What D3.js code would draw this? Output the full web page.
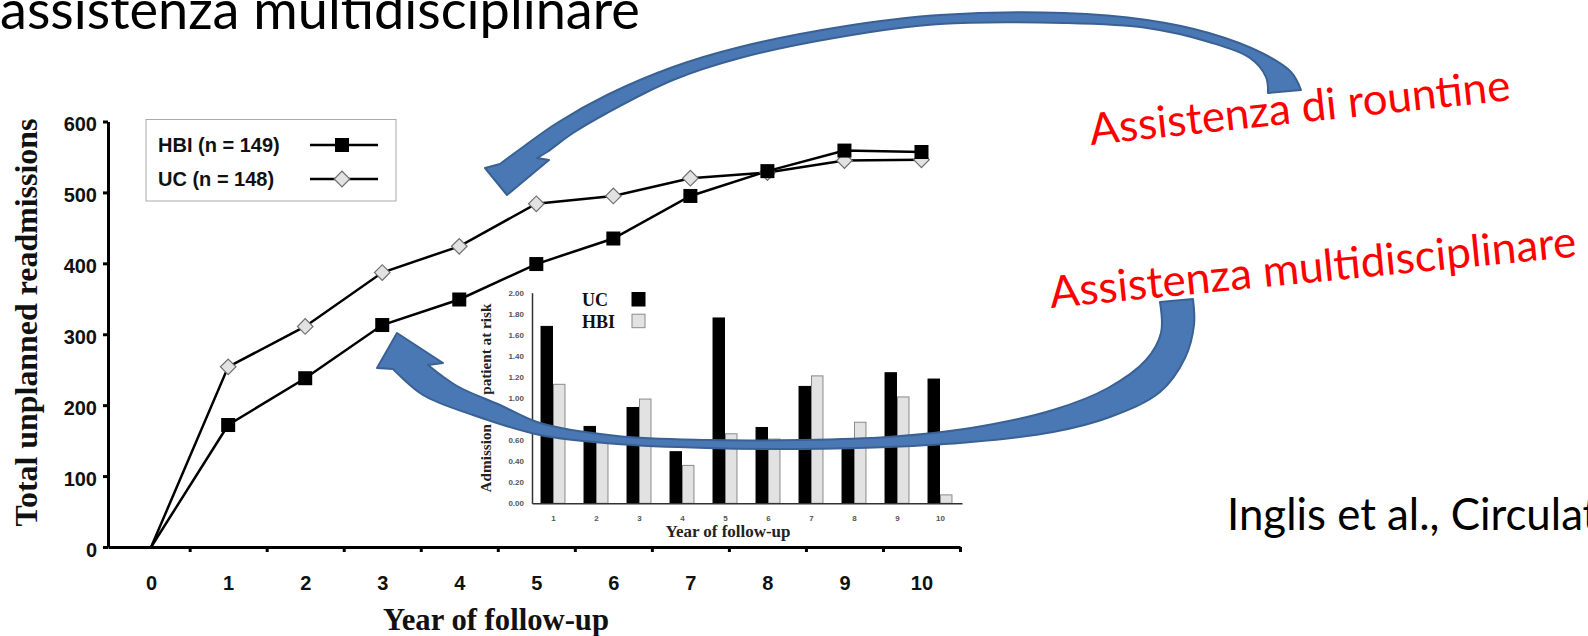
<!DOCTYPE html>
<html>
<head>
<meta charset="utf-8">
<script src="https://cdn.jsdelivr.net/npm/d3@7"></script>
<style>
  body { margin: 0; background: #fff; }
  svg { display: block; }
</style>
</head>
<body>
<script>
// Main chart: total unplanned readmissions per year of follow-up
var years = [0, 1, 2, 3, 4, 5, 6, 7, 8, 9, 10];
var hbiTotals = [0, 172, 238, 313, 349, 399, 435, 495, 530, 559, 557];
var ucTotals = [0, 254, 311, 387, 424, 484, 495, 520, 528, 545, 546];
var mainYTicks = [0, 100, 200, 300, 400, 500, 600];
var xMinorTicks = [0.5, 1.5, 2.5, 3.5, 4.5, 5.5, 6.5, 7.5, 8.5, 9.5, 10.5];
var legendLabels = ['HBI (n = 149)', 'UC (n = 148)'];

// Inset chart: admission per patient at risk
var insetYears = [1, 2, 3, 4, 5, 6, 7, 8, 9, 10];
var insetUC = [1.68, 0.73, 0.91, 0.49, 1.76, 0.72, 1.11, 0.51, 1.24, 1.18];
var insetHBI = [1.13, 0.58, 0.99, 0.36, 0.66, 0.61, 1.21, 0.77, 1.01, 0.08];
var insetYTicks = [0, 0.2, 0.4, 0.6, 0.8, 1.0, 1.2, 1.4, 1.6, 1.8, 2.0];
var insetSeries = ['UC', 'HBI'];

var slideFont = 'Lato, "Open Sans", sans-serif';
var sansBold = '"Liberation Sans", Arial, sans-serif';
var serifBold = '"Liberation Serif", "Times New Roman", serif';

var svg = d3.select('body').append('svg')
    .attr('width', 1588)
    .attr('height', 636);

svg.append('rect').attr('width', 1588).attr('height', 636).attr('fill', '#fff');

// scales a text so that it spans the given width
function fitText(sel, targetWidth, node) {
    var w = (node || sel.node()).getComputedTextLength();
    var size = parseFloat(sel.attr('font-size'));
    sel.attr('font-size', size * targetWidth / w);
}

// ---------- main chart ----------
var x = d3.scaleLinear().domain([-0.56, 10.5]).range([108, 960]);
var y = d3.scaleLinear().domain([0, 600]).range([547, 121.5]);

var main = svg.append('g').attr('class', 'main-chart');

var yAxis = main.append('g')
    .attr('transform', 'translate(108,0)')
    .call(d3.axisLeft(y).tickValues(mainYTicks).tickSize(5).tickSizeOuter(0).tickPadding(6));

var xAxis = main.append('g')
    .attr('transform', 'translate(0,547)')
    .call(d3.axisBottom(x).tickValues(years).tickSize(0).tickPadding(43));

main.append('g')
    .attr('transform', 'translate(0,547)')
    .call(d3.axisBottom(x).tickValues(xMinorTicks).tickSize(5).tickFormat(''))
    .select('.domain').remove();

main.selectAll('.domain').attr('stroke', '#000').attr('stroke-width', 3);
main.selectAll('.tick line').attr('stroke', '#000').attr('stroke-width', 3);
main.selectAll('.tick text')
    .attr('font-family', sansBold)
    .attr('font-weight', 'bold')
    .attr('font-size', 20)
    .attr('fill', '#111');
yAxis.selectAll('.tick text').attr('dy', '0.32em').attr('y', 3);
xAxis.selectAll('.tick text').attr('dy', 0);

var yTitle = main.append('text')
    .attr('transform', 'translate(37,322.5) rotate(-90)')
    .attr('text-anchor', 'middle')
    .attr('font-family', serifBold)
    .attr('font-weight', 'bold')
    .attr('font-size', 29)
    .attr('fill', '#111')
    .text('Total unplanned readmissions');
fitText(yTitle, 408);

var xTitle = main.append('text')
    .attr('x', 496)
    .attr('y', 630)
    .attr('text-anchor', 'middle')
    .attr('font-family', serifBold)
    .attr('font-weight', 'bold')
    .attr('font-size', 29)
    .attr('fill', '#111')
    .text('Year of follow-up');
fitText(xTitle, 226);

var ucData = years.map(function (d, i) { return { year: d, value: ucTotals[i] }; });
var hbiData = years.map(function (d, i) { return { year: d, value: hbiTotals[i] }; });

var line = d3.line()
    .x(function (d) { return x(d.year); })
    .y(function (d) { return y(d.value); });

[ucData, hbiData].forEach(function (data) {
    main.append('path')
        .datum(data)
        .attr('d', line)
        .attr('fill', 'none')
        .attr('stroke', '#000')
        .attr('stroke-width', 2.5);
});

function drawDiamond(g, cx, cy) {
    g.append('rect')
        .attr('x', -5.5).attr('y', -5.5)
        .attr('width', 11).attr('height', 11)
        .attr('transform', 'translate(' + cx + ',' + cy + ') rotate(45)')
        .attr('fill', '#e2e2e2')
        .attr('stroke', '#6f6f6f')
        .attr('stroke-width', 1.2);
}

function drawSquare(g, cx, cy) {
    g.append('rect')
        .attr('x', cx - 7).attr('y', cy - 7)
        .attr('width', 14).attr('height', 14)
        .attr('fill', '#000');
}

ucData.filter(function (d) { return d.year > 0; }).forEach(function (d) {
    drawDiamond(main, x(d.year), y(d.value));
});
hbiData.filter(function (d) { return d.year > 0; }).forEach(function (d) {
    drawSquare(main, x(d.year), y(d.value));
});

// legend
var legend = main.append('g');
legend.append('rect')
    .attr('x', 146).attr('y', 119.5)
    .attr('width', 250).attr('height', 81.5)
    .attr('fill', '#fff')
    .attr('stroke', '#aaa')
    .attr('stroke-width', 1);

legendLabels.forEach(function (label, i) {
    var ly = 145 + i * 34;
    legend.append('text')
        .attr('x', 158).attr('y', ly + 7)
        .attr('font-family', sansBold)
        .attr('font-weight', 'bold')
        .attr('font-size', 20)
        .attr('fill', '#111')
        .text(label);
    legend.append('line')
        .attr('x1', 310).attr('x2', 378)
        .attr('y1', ly).attr('y2', ly)
        .attr('stroke', '#000')
        .attr('stroke-width', 2.5);
    if (i === 0) drawSquare(legend, 342, ly);
    else drawDiamond(legend, 342, ly);
});

// ---------- inset bar chart ----------
var inset = svg.append('g').attr('class', 'inset-chart');

var ix = d3.scaleBand().domain(insetYears).range([532, 962]).paddingInner(0.42).paddingOuter(0.21);
var is = d3.scaleBand().domain(insetSeries).range([0, ix.bandwidth()]);
var iy = d3.scaleLinear().domain([0, 2]).range([503.3, 292.7]);

var insetValues = { UC: insetUC, HBI: insetHBI };
var insetFill = { UC: '#000', HBI: '#e2e2e2' };
var insetStroke = { UC: '#000', HBI: '#8a8a8a' };

insetSeries.forEach(function (s) {
    inset.selectAll('rect.bar-' + s)
        .data(insetYears)
        .enter().append('rect')
        .attr('class', 'bar-' + s)
        .attr('x', function (d) { return ix(d) + is(s); })
        .attr('y', function (d, i) { return iy(insetValues[s][i]); })
        .attr('width', is.bandwidth() - 1)
        .attr('height', function (d, i) { return iy(0) - iy(insetValues[s][i]); })
        .attr('fill', insetFill[s])
        .attr('stroke', insetStroke[s])
        .attr('stroke-width', 1);
});

inset.append('g')
    .attr('transform', 'translate(532,0)')
    .call(d3.axisLeft(iy).tickValues(insetYTicks).tickSize(0).tickSizeOuter(0)
        .tickPadding(8).tickFormat(d3.format('.2f')));

inset.append('g')
    .attr('transform', 'translate(0,503.3)')
    .call(d3.axisBottom(ix).tickSize(0).tickSizeOuter(0).tickPadding(12));

inset.selectAll('.domain').attr('stroke', '#333').attr('stroke-width', 1.5);
inset.selectAll('.tick text')
    .attr('font-family', sansBold)
    .attr('font-weight', 'bold')
    .attr('font-size', 8)
    .attr('fill', '#555');

var iyTitle = inset.append('text')
    .attr('transform', 'translate(491,398) rotate(-90)')
    .attr('text-anchor', 'middle')
    .attr('font-family', serifBold)
    .attr('font-weight', 'bold')
    .attr('font-size', 14)
    .attr('fill', '#222')
    .text('Admission per patient at risk');
fitText(iyTitle, 189);

var ixTitle = inset.append('text')
    .attr('x', 728).attr('y', 537)
    .attr('text-anchor', 'middle')
    .attr('font-family', serifBold)
    .attr('font-weight', 'bold')
    .attr('font-size', 16)
    .attr('fill', '#222')
    .text('Year of follow-up');
fitText(ixTitle, 125);

insetSeries.forEach(function (s, i) {
    var ly = 306 + i * 21.7;
    inset.append('text')
        .attr('x', 582).attr('y', ly)
        .attr('font-family', serifBold)
        .attr('font-weight', 'bold')
        .attr('font-size', 18)
        .attr('fill', '#111')
        .text(s);
    inset.append('rect')
        .attr('x', 632).attr('y', ly - 13.5)
        .attr('width', 13).attr('height', 13.5)
        .attr('fill', insetFill[s])
        .attr('stroke', insetStroke[s])
        .attr('stroke-width', 1);
});

// ---------- curved block arrows ----------
var upperOuter = [[1301, 90], [1291, 72], [1262, 53], [1209, 33], [1147, 20], [1064, 13], [940, 15],
    [840, 27], [740, 47], [673, 67], [607, 95], [557, 123], [523, 147], [500, 164]];
var upperInner = [[1268, 93], [1266, 77], [1250, 58], [1209, 42], [1147, 28], [1064, 23], [940, 24],
    [840, 37], [740, 58], [673, 80], [607, 113], [573, 133], [547, 152], [537, 158]];
var upperHead = [[485, 168], [507, 195], [549, 160]];

var lowerOuter = [[1193, 299], [1194, 325], [1185, 358], [1160, 392], [1110, 417], [1053, 432], [971, 442],
    [888, 447], [800, 449], [707, 448], [617, 444], [540, 435], [473, 415], [423, 395], [393, 369]];
var lowerInner = [[1160, 302], [1161, 333], [1146, 360], [1108, 388], [1053, 410], [971, 428], [888, 437],
    [800, 440], [707, 440], [617, 436], [540, 423], [500, 405], [457, 386], [428, 365]];
var lowerHead = [[377, 368], [397, 333], [443, 363]];

function arrowPath(outer, inner, head) {
    var edge = d3.line().curve(d3.curveCatmullRom.alpha(0.5));
    var o = edge(outer);
    var i = edge(inner.slice().reverse());
    return o + head.map(function (p) { return 'L' + p[0] + ',' + p[1]; }).join('') +
        'L' + i.slice(1) + 'Z';
}

[[upperOuter, upperInner, upperHead], [lowerOuter, lowerInner, lowerHead]].forEach(function (a) {
    svg.append('path')
        .attr('d', arrowPath(a[0], a[1], a[2]))
        .attr('fill', '#4a78b4')
        .attr('stroke', '#3a6194')
        .attr('stroke-width', 2)
        .attr('stroke-linejoin', 'round');
});

// ---------- slide texts ----------
var title = svg.append('text')
    .attr('x', 0).attr('y', 29)
    .attr('font-family', slideFont)
    .attr('font-size', 56)
    .attr('fill', '#000')
    .text('assistenza multidisciplinare');
fitText(title, 640);

var red1 = svg.append('text')
    .attr('transform', 'translate(1091,145) rotate(-6.1)')
    .attr('font-family', slideFont)
    .attr('font-size', 48)
    .attr('fill', '#ff0000')
    .text('Assistenza di rountine');
fitText(red1, 423);

var red2 = svg.append('text')
    .attr('transform', 'translate(1051,308) rotate(-5.6)')
    .attr('font-family', slideFont)
    .attr('font-size', 48)
    .attr('fill', '#ff0000')
    .text('Assistenza multidisciplinare');
fitText(red2, 529);

var cite = svg.append('text')
    .attr('x', 1227).attr('y', 530)
    .attr('font-family', slideFont)
    .attr('font-size', 47)
    .attr('fill', '#000')
    .text('Inglis et al., Circula');
fitText(cite, 356);
cite.text('Inglis et al., Circulation 2006');
</script>
</body>
</html>
